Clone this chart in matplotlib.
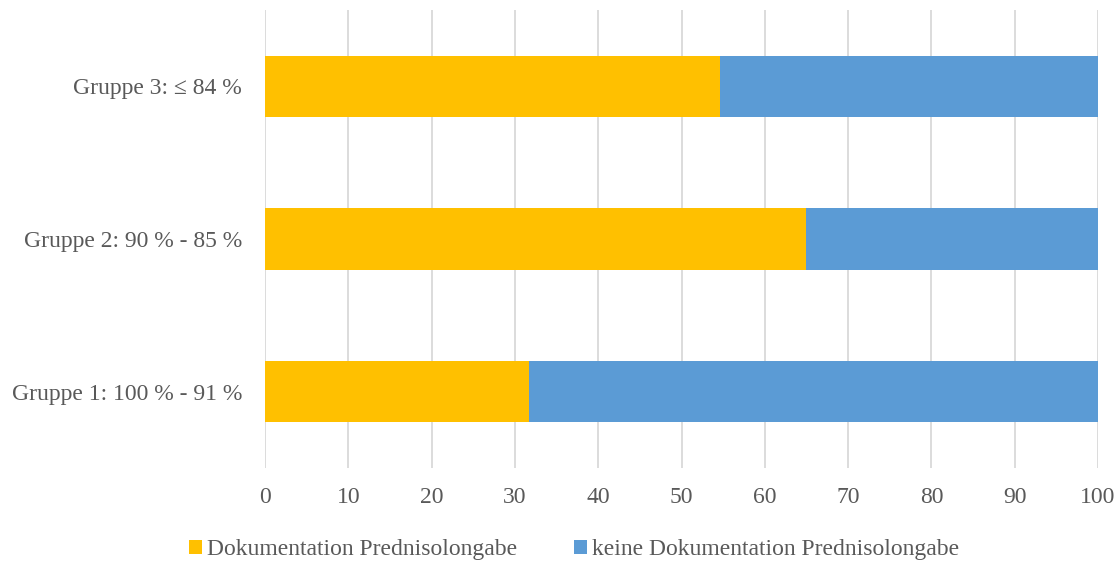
import numpy as np
import matplotlib.pyplot as plt

# share of documented prednisolone administration per group, in percent
gruppen = ['Gruppe 1: 100 % - 91 %', 'Gruppe 2: 90 % - 85 %', 'Gruppe 3: \u2264 84 %']
doku = [31.7, 65.0, 54.6]
keine_doku = [100 - d for d in doku]

gelb = '#FFC000'
blau = '#5B9BD5'
grau = '#595959'

plt.rcParams['font.family'] = ['Liberation Serif', 'DejaVu Serif']

fig = plt.figure(figsize=(11.19, 5.63), dpi=100)
ax = fig.add_axes([265 / 1119, 95 / 563, 833 / 1119, 458 / 563])

y = np.arange(len(gruppen))
ax.barh(y, doku, height=0.4, color=gelb, label='Dokumentation Prednisolongabe', zorder=3)
ax.barh(y, keine_doku, left=doku, height=0.4, color=blau,
        label='keine Dokumentation Prednisolongabe', zorder=3)

ax.set_xlim(0, 100)
ax.set_ylim(-0.5, 2.5)
ax.set_xticks(range(0, 101, 10))
ax.set_yticks(y)
ax.set_yticklabels(gruppen)
ax.grid(axis='x', color='#D9D9D9', linewidth=1.3, zorder=0)
ax.tick_params(axis='both', length=0, labelsize=17, labelcolor=grau)
ax.tick_params(axis='x', pad=14)
ax.tick_params(axis='y', pad=16.5)
for s in ax.spines.values():
    s.set_visible(False)

fig.legend(loc='center', bbox_to_anchor=(0.513, 13 / 563), ncol=2,
           frameon=False, fontsize=17, labelcolor=grau, handlelength=0.55,
           handleheight=0.55, handletextpad=0.2, columnspacing=2.4)

fig.savefig('out.png', dpi=100)
